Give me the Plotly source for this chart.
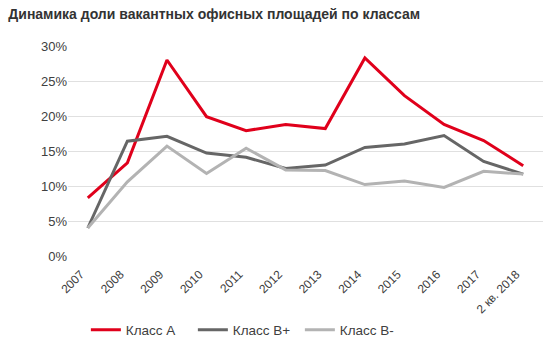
import plotly.graph_objects as go

years = ["2007", "2008", "2009", "2010", "2011", "2012", "2013", "2014", "2015", "2016", "2017", "2 кв. 2018"]
class_a = [8.3, 13.3, 28.0, 19.9, 17.9, 18.8, 18.2, 28.3, 22.9, 18.8, 16.5, 12.9]
class_bp = [4.0, 16.4, 17.1, 14.7, 14.1, 12.5, 13.0, 15.5, 16.0, 17.2, 13.5, 11.7]
class_bm = [4.0, 10.6, 15.7, 11.8, 15.4, 12.3, 12.2, 10.2, 10.7, 9.8, 12.1, 11.7]
names = ["Класс А", "Класс В+", "Класс В-"]
colors = ["#E0001B", "#666666", "#B3B3B3"]

fig = go.Figure()
for name, vals, c in zip(names, [class_a, class_bp, class_bm], colors):
    fig.add_trace(go.Scatter(x=years, y=[v / 100 for v in vals], mode="lines", name=name,
                             line=dict(color=c, width=3)))

fig.update_layout(
    width=554, height=353,
    margin=dict(l=68, r=11, t=46, b=97),
    paper_bgcolor="white", plot_bgcolor="white",
    font=dict(family="Liberation Sans, Arial, sans-serif", size=12, color="#404040"),
    title=dict(text="<b>Динамика доли вакантных офисных площадей по классам</b>",
               x=0.015, xanchor="left", y=0.96, yanchor="middle",
               font=dict(size=14, color="#333333")),
    xaxis=dict(type="category", range=[-0.5, 11.5], tickangle=-45, showgrid=False, showline=False,
               ticks="", automargin=False, ticklabelstandoff=8, ticklabelshift=-7,
               tickfont=dict(size=12, color="#404040")),
    yaxis=dict(range=[0, 0.30], tickvals=[0, 0.05, 0.10, 0.15, 0.20, 0.25, 0.30],
               tickformat=".0%", showgrid=True, gridcolor="#E0E0E0", gridwidth=1,
               zeroline=False, showline=False, ticks="", ticksuffix="  ", automargin=False,
               tickfont=dict(size=13, color="#404040")),
    legend=dict(orientation="h", xref="container", yref="container",
                x=0.155, xanchor="left", y=0.065, yanchor="middle",
                font=dict(size=13.5, color="#404040"), itemwidth=30, entrywidth=62),
    showlegend=True,
)
fig.write_html("out.html")
